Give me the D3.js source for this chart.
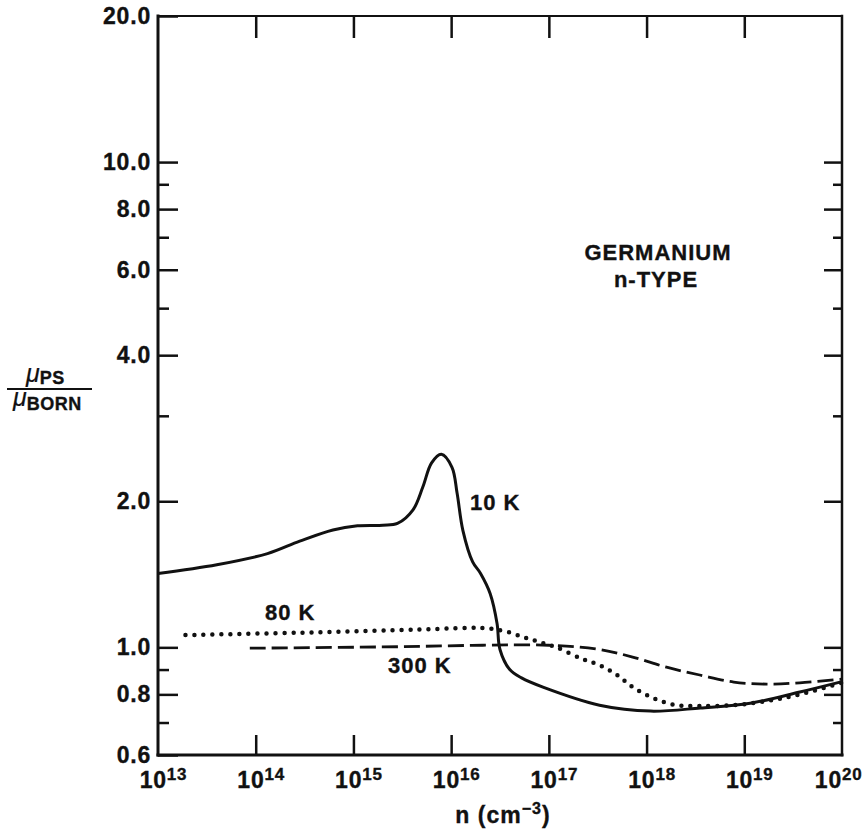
<!DOCTYPE html>
<html lang="en">
<head>
<meta charset="UTF-8">
<title>Germanium n-type mobility ratio</title>
<script src="https://d3js.org/d3.v7.min.js"></script>
<style>
  body { margin: 0; background: #fff; }
  svg text { font-family: "Liberation Sans", Arial, Helvetica, sans-serif; font-weight: bold; fill: #111; stroke: #111; stroke-width: 0.35; }
</style>
</head>
<body>
<svg width="866" height="832"></svg>
<script>
// x tick decades (n in cm^-3), y ticks
const xDecades = [1e13, 1e14, 1e15, 1e16, 1e17, 1e18, 1e19, 1e20];
const yMajor = [0.6, 0.8, 1.0, 2.0, 4.0, 6.0, 8.0, 10.0, 20.0];
const yMinor = [0.7, 0.9, 3.0, 5.0, 7.0, 9.0];

// 10 K (solid)
const n10K  = [1e13, 4e13, 1.32e14, 2.82e14, 6.17e14, 1.1e15, 2e15, 2.82e15, 4.07e15, 5.13e15, 6.31e15, 7.94e15,
               1.02e16, 1.15e16, 1.32e16, 1.66e16, 2e16, 2.51e16, 2.95e16, 3.16e16, 3.98e16, 5.25e16, 8.7e16,
               3.3e17, 1.1e18, 3.55e18, 1.15e19, 3.7e19, 1e20];
const mu10K = [1.42, 1.48, 1.56, 1.655, 1.745, 1.78, 1.785, 1.80, 1.92, 2.14, 2.40, 2.50,
               2.35, 2.08, 1.74, 1.50, 1.42, 1.29, 1.12, 0.99, 0.90, 0.865, 0.828,
               0.76, 0.739, 0.75, 0.767, 0.809, 0.85];

// 80 K (dotted)
const n80K  = [1.91e13, 4.3e14, 4.8e15, 2.1e16, 3.5e16, 5.5e16, 8.1e16, 1.2e17, 2.2e17, 3.3e17, 5e17, 7.2e17,
               1.17e18, 2e18, 3.5e18, 7.8e18, 1.7e19, 3.7e19, 1e20];
const mu80K = [1.06, 1.074, 1.088, 1.096, 1.08, 1.05, 1.025, 1.0, 0.946, 0.919, 0.877, 0.828,
               0.786, 0.76, 0.757, 0.76, 0.775, 0.80, 0.845];

// 300 K (dashed)
const n300K  = [8.7e13, 3e15, 2.1e16, 1e17, 3.3e17, 7.2e17, 1.6e18, 3.5e18, 7.8e18, 1.7e19, 3.7e19, 1e20];
const mu300K = [0.996, 1.003, 1.01, 1.01, 0.99, 0.955, 0.91, 0.877, 0.848, 0.84, 0.845, 0.86];

const width = 866, height = 832;
const margin = { top: 16, right: 24, bottom: 77, left: 158 };

const svg = d3.select("svg");

const x = d3.scaleLog()
    .domain([1e13, 1e20])
    .range([margin.left, width - margin.right]);
const y = d3.scaleLog()
    .domain([0.6, 20])
    .range([height - margin.bottom, margin.top]);

const X0 = x.range()[0], X1 = x.range()[1];
const Y0 = y.range()[0], Y1 = y.range()[1];

// left ticks + labels
svg.append("g")
    .attr("transform", `translate(${X0},0)`)
    .call(d3.axisLeft(y).tickValues(yMajor).tickSize(-20).tickPadding(7).tickFormat(d3.format(".1f")))
    .call(g => g.select(".domain").remove())
    .call(g => g.selectAll("line").attr("stroke", "#111").attr("stroke-width", 2.5))
    .call(g => g.selectAll("text").attr("font-size", 23).attr("letter-spacing", 0.8).attr("fill", "#111"));
svg.append("g")
    .attr("transform", `translate(${X0},0)`)
    .call(d3.axisLeft(y).tickValues(yMinor).tickSize(-11).tickFormat(""))
    .call(g => g.select(".domain").remove())
    .call(g => g.selectAll("line").attr("stroke", "#111").attr("stroke-width", 2.5));

// right ticks
svg.append("g")
    .attr("transform", `translate(${X1},0)`)
    .call(d3.axisRight(y).tickValues(yMajor.filter(d => d !== 0.6 && d !== 20)).tickSize(-18).tickFormat(""))
    .call(g => g.select(".domain").remove())
    .call(g => g.selectAll("line").attr("stroke", "#111").attr("stroke-width", 2.5));
svg.append("g")
    .attr("transform", `translate(${X1},0)`)
    .call(d3.axisRight(y).tickValues(yMinor).tickSize(-9).tickFormat(""))
    .call(g => g.select(".domain").remove())
    .call(g => g.selectAll("line").attr("stroke", "#111").attr("stroke-width", 2.5));

// top ticks
svg.append("g")
    .attr("transform", `translate(0,${Y1})`)
    .call(d3.axisTop(x).tickValues(xDecades.slice(1, -1)).tickSize(-22).tickFormat(""))
    .call(g => g.select(".domain").remove())
    .call(g => g.selectAll("line").attr("stroke", "#111").attr("stroke-width", 2.5));

// bottom ticks with 10^k labels
const bottom = svg.append("g")
    .attr("transform", `translate(0,${Y0})`)
    .call(d3.axisBottom(x).tickValues(xDecades).tickSize(-20).tickFormat(""))
    .call(g => g.select(".domain").remove())
    .call(g => g.selectAll("line").attr("stroke", "#111").attr("stroke-width", 2.5))
    .call(g => g.selectAll(".tick").filter(d => d === 1e13 || d === 1e20).select("line").remove());

bottom.selectAll(".tick text").remove();
bottom.selectAll(".tick").append("text")
    .attr("x", d => d === 1e20 ? 20 : 5)
    .attr("y", 33)
    .attr("text-anchor", d => d === 1e20 ? "end" : "middle")
    .attr("font-size", 23)
    .attr("letter-spacing", 0.8)
    .attr("fill", "#111")
    .each(function(d) {
        const t = d3.select(this);
        t.append("tspan").text("10");
        t.append("tspan").attr("font-size", 17).attr("dy", -8).text(Math.round(Math.log10(d)));
    });

// frame
const frame = svg.append("g").attr("stroke", "#111").attr("stroke-linecap", "square");
frame.append("line").attr("x1", X0).attr("x2", X0).attr("y1", Y1).attr("y2", Y0).attr("stroke-width", 3);
frame.append("line").attr("x1", X0).attr("x2", X1).attr("y1", Y0).attr("y2", Y0).attr("stroke-width", 3);
frame.append("line").attr("x1", X1).attr("x2", X1).attr("y1", Y1).attr("y2", Y0).attr("stroke-width", 2.5);
frame.append("line").attr("x1", X0).attr("x2", X1).attr("y1", Y1).attr("y2", Y1).attr("stroke-width", 2);

// curves
const line = d3.line()
    .x(d => x(d[0]))
    .y(d => y(d[1]))
    .curve(d3.curveCatmullRom.alpha(0.5));

svg.append("path")
    .datum(d3.zip(n10K, mu10K))
    .attr("d", line)
    .attr("fill", "none")
    .attr("stroke", "#111")
    .attr("stroke-width", 3);

svg.append("path")
    .datum(d3.zip(n80K, mu80K))
    .attr("d", line)
    .attr("fill", "none")
    .attr("stroke", "#111")
    .attr("stroke-width", 4.5)
    .attr("stroke-linecap", "round")
    .attr("stroke-dasharray", "0,9");

svg.append("path")
    .datum(d3.zip(n300K, mu300K))
    .attr("d", line)
    .attr("fill", "none")
    .attr("stroke", "#111")
    .attr("stroke-width", 2.8)
    .attr("stroke-dasharray", "16,6");

// annotations
const note = (tx, ty, s, anchor) => svg.append("text")
    .attr("x", tx).attr("y", ty)
    .attr("text-anchor", anchor || "start")
    .attr("font-size", 22)
    .attr("letter-spacing", 1)
    .text(s);

note(658, 260, "GERMANIUM", "middle");
note(656, 287, "n-TYPE", "middle");
note(470, 510, "10 K");
note(265, 620, "80 K");
note(388, 673, "300 K");

// x axis title
const xt = svg.append("text")
    .attr("x", 503).attr("y", 823)
    .attr("text-anchor", "middle")
    .attr("font-size", 23)
    .attr("letter-spacing", 1);
xt.append("tspan").text("n (cm");
xt.append("tspan").attr("font-size", 16).attr("dy", -9).text("\u22123");
xt.append("tspan").attr("dy", 9).text(")");

// y axis title (fraction)
const yt = svg.append("g");
const num = yt.append("text").attr("x", 26).attr("y", 382);
num.append("tspan").attr("font-size", 25).attr("font-style", "italic").attr("font-weight", "normal").attr("stroke-width", 0.2).text("\u03bc");
num.append("tspan").attr("font-size", 18).attr("dy", 2).attr("letter-spacing", 0.5).text("PS");
yt.append("line")
    .attr("x1", 7).attr("x2", 92).attr("y1", 389).attr("y2", 389)
    .attr("stroke", "#111").attr("stroke-width", 2);
const den = yt.append("text").attr("x", 13).attr("y", 406);
den.append("tspan").attr("font-size", 25).attr("font-style", "italic").attr("font-weight", "normal").attr("stroke-width", 0.2).text("\u03bc");
den.append("tspan").attr("font-size", 18).attr("dy", 4).attr("letter-spacing", 0.5).text("BORN");
</script>
</body>
</html>
